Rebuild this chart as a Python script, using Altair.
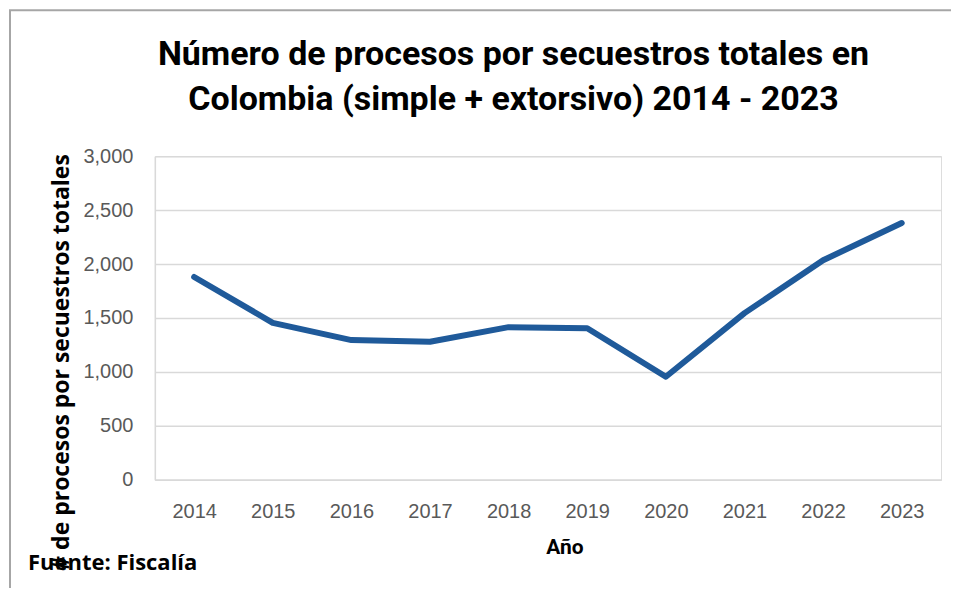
import altair as alt
import pandas as pd

years = ["2014", "2015", "2016", "2017", "2018", "2019", "2020", "2021", "2022", "2023"]
values = [1880, 1455, 1295, 1280, 1415, 1405, 955, 1545, 2035, 2380]

title_lines = ["Número de procesos por secuestros totales en",
               "Colombia (simple + extorsivo) 2014 - 2023"]
y_title = "# de procesos por secuestros totales"
x_title = "Año"
source_note = "Fuente: Fiscalía"

df = pd.DataFrame({"year": years, "value": values})

W, H = 787, 324

line = alt.Chart(df).mark_line(color="#1F5A9A", strokeWidth=6, strokeCap="round", strokeJoin="round").encode(
    x=alt.X("year:N", sort=years, scale=alt.Scale(paddingInner=0, paddingOuter=0),
            axis=alt.Axis(title=x_title, labelAngle=0, labelFont="Liberation Sans", labelFontSize=20,
                          labelColor="#595959", labelPadding=22, ticks=False,
                          domainColor="#D9D9D9", domainWidth=1.5,
                          titleFont="Roboto", titleFontSize=21, titleFontWeight="bold",
                          titleColor="#000000", titleX=410, titleY=68, titleBaseline="middle")),
    y=alt.Y("value:Q", scale=alt.Scale(domain=[0, 3000]),
            axis=alt.Axis(title=y_title, values=[0, 500, 1000, 1500, 2000, 2500, 3000], format=",d",
                          labelFont="Liberation Sans", labelFontSize=20, labelColor="#595959",
                          labelPadding=22, ticks=False, domainColor="#D9D9D9", domainWidth=1.5,
                          gridColor="#D9D9D9", gridWidth=1.5,
                          titleFont="Open Sans", titleFontSize=23, titleFontWeight="bold",
                          titleColor="#000000", titleAngle=-90, titleX=-93, titleY=206,
                          titleAlign="center", titleBaseline="middle")),
)

note = alt.Chart(pd.DataFrame({"t": [source_note]})).mark_text(
    font="Open Sans", fontSize=22, fontWeight="bold", color="#000000", align="left", baseline="middle"
).encode(text="t:N", x=alt.value(-127), y=alt.value(407))

title1 = alt.Chart(pd.DataFrame({"t": [title_lines[0]]})).mark_text(
    font="Roboto", fontSize=34, fontWeight="bold", color="#000000", align="center", baseline="middle"
).encode(text="t:N", x=alt.value(359), y=alt.value(-101))
title2 = alt.Chart(pd.DataFrame({"t": [title_lines[1]]})).mark_text(
    font="Roboto", fontSize=34, fontWeight="bold", color="#000000", align="center", baseline="middle"
).encode(text="t:N", x=alt.value(359), y=alt.value(-56))

frame = alt.Chart(pd.DataFrame({"a": [0]})).mark_rect(fill=None, stroke="#A6A6A6", strokeWidth=2).encode(
    x=alt.value(-145), x2=alt.value(W + 40), y=alt.value(-146), y2=alt.value(H + 150))

chart = alt.layer(line, note, title1, title2, frame).properties(
    width=W, height=H,
    autosize=alt.AutoSizeParams(type="none"),
    padding={"left": 147, "top": 148, "right": 10, "bottom": 108},
).configure_view(stroke=None).configure(background="white")

chart.save("out.html", embed_options={"renderer": "svg", "actions": False})
